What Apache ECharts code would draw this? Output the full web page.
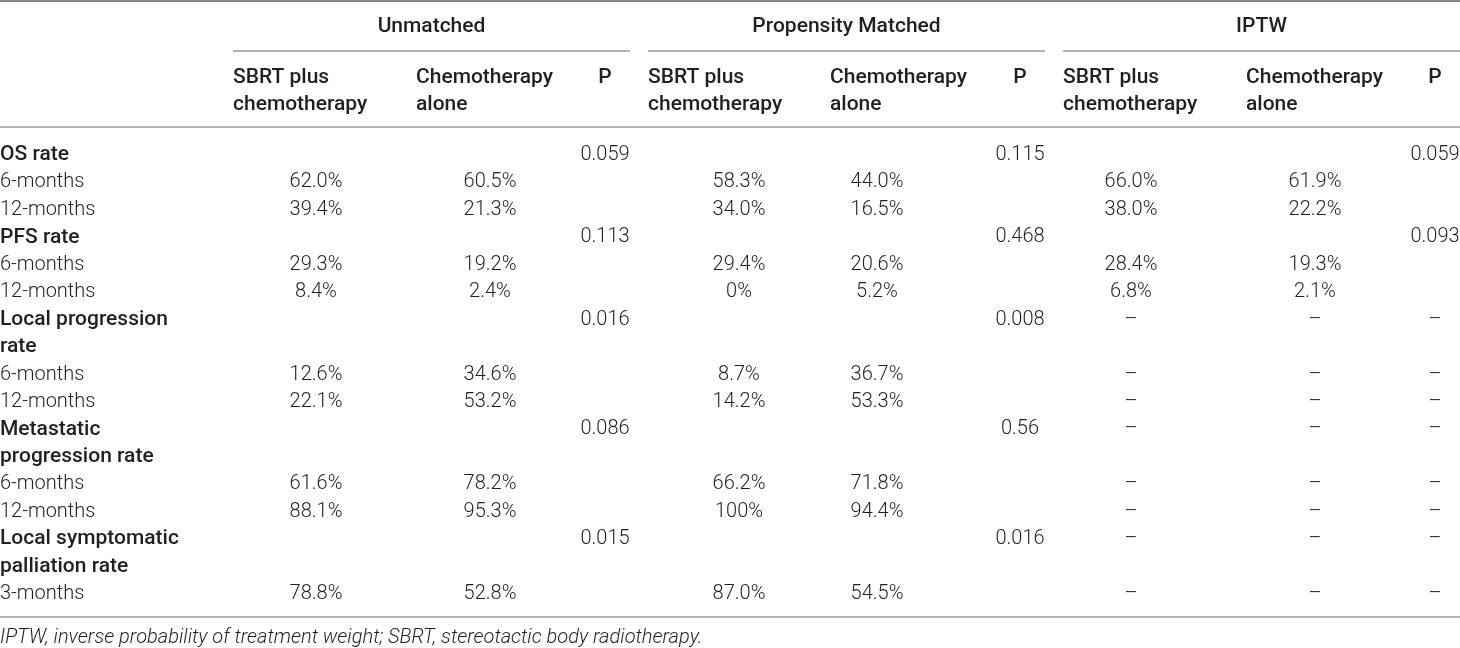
<!DOCTYPE html>
<html>
<head>
<meta charset="utf-8">
<title>SBRT plus chemotherapy vs chemotherapy alone</title>
<script src="https://cdn.jsdelivr.net/npm/echarts@6/dist/echarts.min.js"></script>
<style>
  html, body { margin: 0; padding: 0; background: #fff; }
  #chart { width: 1460px; height: 648px; }
</style>
</head>
<body>
<div id="chart"></div>
<script>
// 表格数据（逐行读取自原图）
const rowLabels = [
    'OS rate', '6-months', '12-months',
    'PFS rate', '6-months', '12-months',
    'Local progression', 'rate', '6-months', '12-months',
    'Metastatic', 'progression rate', '6-months', '12-months',
    'Local symptomatic', 'palliation rate', '3-months'
];
const boldRows = [0, 3, 6, 7, 10, 11, 14, 15];
const groupNames = ['Unmatched', 'Propensity Matched', 'IPTW'];
const colHeads = [['SBRT plus', 'chemotherapy'], ['Chemotherapy', 'alone'], ['P']];

const unmatchedSbrt  = ['', '62.0%', '39.4%', '', '29.3%', '8.4%', '', '', '12.6%', '22.1%', '', '', '61.6%', '88.1%', '', '', '78.8%'];
const unmatchedChemo = ['', '60.5%', '21.3%', '', '19.2%', '2.4%', '', '', '34.6%', '53.2%', '', '', '78.2%', '95.3%', '', '', '52.8%'];
const unmatchedP     = ['0.059', '', '', '0.113', '', '', '0.016', '', '', '', '0.086', '', '', '', '0.015', '', ''];
const matchedSbrt    = ['', '58.3%', '34.0%', '', '29.4%', '0%', '', '', '8.7%', '14.2%', '', '', '66.2%', '100%', '', '', '87.0%'];
const matchedChemo   = ['', '44.0%', '16.5%', '', '20.6%', '5.2%', '', '', '36.7%', '53.3%', '', '', '71.8%', '94.4%', '', '', '54.5%'];
const matchedP       = ['0.115', '', '', '0.468', '', '', '0.008', '', '', '', '0.56', '', '', '', '0.016', '', ''];
const iptwSbrt       = ['', '66.0%', '38.0%', '', '28.4%', '6.8%', '–', '', '–', '–', '–', '', '–', '–', '–', '', '–'];
const iptwChemo      = ['', '61.9%', '22.2%', '', '19.3%', '2.1%', '–', '', '–', '–', '–', '', '–', '–', '–', '', '–'];
const iptwP          = ['0.059', '', '', '0.093', '', '', '–', '', '–', '–', '–', '', '–', '–', '–', '', '–'];

const footnote = 'IPTW, inverse probability of treatment weight; SBRT, stereotactic body radiotherapy.';

// 版式（像素坐标系，轴范围 = 画布尺寸）
const W = 1460, H = 648;
const groupSpan = [[233, 630], [648, 1045], [1063, 1460]];
const headLeft = [[233, 416, 605], [648, 830, 1020], [1063, 1246, 1435]];
const valueCenter = [[316, 490, 605], [739, 877, 1020], [1131, 1315, 1435]];
const groupY = 27, headY = [78, 105], row0Y = 155, rowH = 27.44, footY = 638;
const ruleTop = 1, ruleHead = 127, ruleBottom = 617, underlineY = 51;

const FONT = 'Roboto, "Liberation Sans", Arial, sans-serif';
const INK = '#231f20';

const groupValues = [
    [unmatchedSbrt, unmatchedChemo, unmatchedP],
    [matchedSbrt, matchedChemo, matchedP],
    [iptwSbrt, iptwChemo, iptwP]
];

// 文本单元
const cells = [];
groupNames.forEach((g, gi) => {
    const s = groupSpan[gi];
    cells.push({ x: (s[0] + s[1]) / 2, y: groupY, text: g, align: 'center', bold: true });
    colHeads.forEach((lines, ci) => {
        lines.forEach((t, li) => {
            cells.push({
                x: headLeft[gi][ci], y: headY[li], text: t,
                align: ci === 2 ? 'center' : 'left', bold: true
            });
        });
    });
    groupValues[gi].forEach((col, ci) => {
        col.forEach((v, ri) => {
            if (v === '') return;
            cells.push({ x: valueCenter[gi][ci], y: row0Y + ri * rowH, text: v, align: 'center', bold: false });
        });
    });
});
rowLabels.forEach((t, ri) => {
    cells.push({ x: 0, y: row0Y + ri * rowH, text: t, align: 'left', bold: boldRows.indexOf(ri) >= 0 });
});
cells.push({ x: 0, y: footY, text: footnote, align: 'left', bold: false, italic: true, size: 20 });

// 表格横线
const rules = [
    { x1: 0, x2: W, y: ruleTop, color: '#8a8a8a', width: 2 },
    { x1: 0, x2: W, y: ruleHead, color: '#b5b5b5', width: 2 },
    { x1: 0, x2: W, y: ruleBottom, color: '#b5b5b5', width: 2 }
];
groupSpan.forEach(s => rules.push({ x1: s[0], x2: s[1], y: underlineY, color: '#9a9a9a', width: 1.5 }));

const chart = echarts.init(document.getElementById('chart'));
chart.setOption({
    backgroundColor: '#fff',
    animation: false,
    grid: { left: 0, right: 0, top: 0, bottom: 0 },
    xAxis: { type: 'value', min: 0, max: W, show: false },
    yAxis: { type: 'value', min: 0, max: H, inverse: true, show: false },
    series: [
        {
            type: 'custom',
            clip: false,
            encode: { x: [0, 1], y: 2 },
            data: rules.map(r => [r.x1, r.x2, r.y]),
            renderItem: function (params, api) {
                const r = rules[params.dataIndex];
                const a = api.coord([api.value(0), api.value(2)]);
                const b = api.coord([api.value(1), api.value(2)]);
                return {
                    type: 'line',
                    shape: { x1: a[0], y1: a[1], x2: b[0], y2: b[1] },
                    style: { stroke: r.color, lineWidth: r.width }
                };
            }
        },
        {
            type: 'custom',
            clip: false,
            encode: { x: 0, y: 1 },
            data: cells.map(c => [c.x, c.y]),
            renderItem: function (params, api) {
                const c = cells[params.dataIndex];
                const p = api.coord([api.value(0), api.value(1)]);
                return {
                    type: 'text',
                    x: p[0],
                    y: p[1],
                    style: {
                        text: c.text,
                        align: c.align,
                        verticalAlign: 'middle',
                        fill: INK,
                        font: (c.italic ? 'italic ' : '') + (c.bold ? '500 ' : '300 ') +
                              (c.size || (c.bold ? 21 : 20)) + 'px ' + FONT
                    }
                };
            }
        }
    ]
});

window.addEventListener('resize', () => chart.resize());
</script>
</body>
</html>
